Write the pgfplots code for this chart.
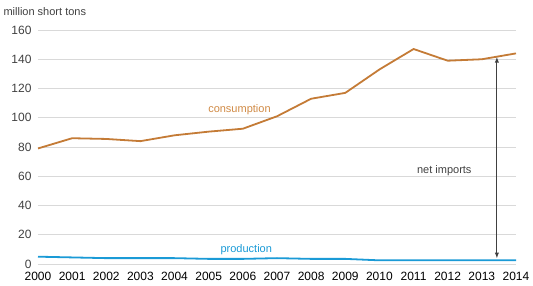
\documentclass[border=0pt]{standalone}
\usepackage{pgfplots}
\pgfplotsset{compat=1.18}
\usepackage{fontspec}
\setmainfont{Liberation Sans}
\definecolor{cons}{HTML}{C47B36}
\definecolor{consl}{HTML}{D08A45}
\definecolor{prod}{HTML}{1A9AD6}
\definecolor{gridc}{HTML}{D9D9D9}
\definecolor{tickc}{HTML}{404040}
\begin{document}
\begin{tikzpicture}
\begin{axis}[
  name=ax,
  scale only axis,
  width=478pt, height=234pt,
  xmin=2000, xmax=2014, ymin=0, ymax=160,
  xtick={2000,...,2014},
  ytick={0,20,...,160},
  xticklabel style={/pgf/number format/1000 sep={}, font=\fontsize{12}{12}\selectfont, text=black, yshift=-5pt},
  yticklabel style={font=\fontsize{12}{12}\selectfont, text=tickc, xshift=-3pt},
  /pgf/number format/assume math mode=true,
  axis line style={draw=none},
  ymajorgrids, xmajorgrids=false,
  grid style={draw=gridc, line width=0.6pt},
  major tick length=0pt,
  xtick style={draw=none},
  ytick style={draw=none},
  clip=false,
  every axis plot/.append style={line join=round},
]
\draw[gridc, line width=0.8pt] (axis cs:2000,0) -- (axis cs:2014,0);
\addplot[cons, line width=1.8pt] coordinates {
(2000,79) (2001,86) (2002,85.5) (2003,84) (2004,88) (2005,90.5) (2006,92.5)
(2007,101) (2008,113) (2009,117) (2010,133) (2011,147) (2012,139) (2013,140) (2014,144)};
\addplot[prod, line width=1.8pt] coordinates {
(2000,5) (2001,4.5) (2002,4) (2003,4) (2004,4) (2005,3.5) (2006,3.5)
(2007,4) (2008,3.5) (2009,3.5) (2010,2.5) (2011,2.5) (2012,2.5) (2013,2.5) (2014,2.5)};
\draw[-latex, line width=0.9pt, tickc] (axis cs:2013.44,70) -- (axis cs:2013.44,141.5);
\draw[-latex, line width=0.9pt, tickc] (axis cs:2013.44,70) -- (axis cs:2013.44,4);
\node[text=consl, font=\fontsize{11}{11}\selectfont] at (axis cs:2005.9,105.5) {consumption};
\node[text=prod, font=\fontsize{11}{11}\selectfont] at (axis cs:2006.1,10) {production};
\node[text=tickc, font=\fontsize{11}{11}\selectfont] at (axis cs:2011.9,64) {net imports};
\end{axis}
\node[anchor=west, text=tickc, font=\fontsize{11}{11}\selectfont] at ([xshift=-38pt,yshift=18pt]ax.north west) {million short tons};
\pgfresetboundingbox
\path[use as bounding box] ([xshift=-38pt,yshift=-22pt]ax.south west) rectangle ([xshift=17pt,yshift=30pt]ax.north east);
\end{tikzpicture}
\end{document}
